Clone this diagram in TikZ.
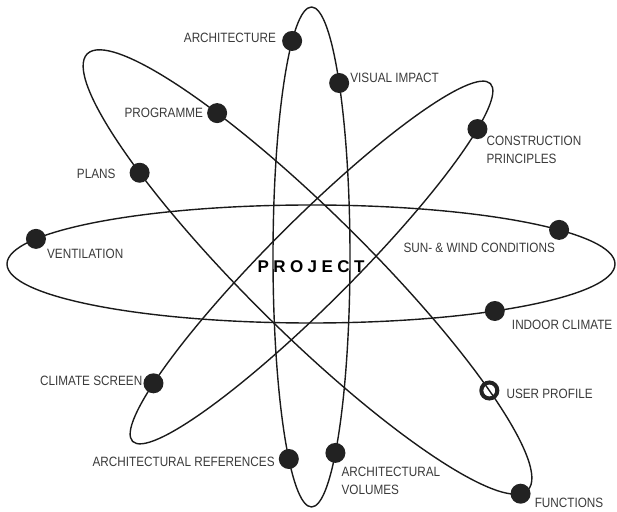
\documentclass[tikz,border=0pt]{standalone}
\usepackage{fontspec}
\setmainfont{Liberation Sans}[FakeStretch=0.87]
\newfontfamily\projfont{Liberation Sans}[LetterSpace=26]
\usetikzlibrary{positioning}
\definecolor{inkline}{HTML}{1A1A1A}
\definecolor{inkdot}{HTML}{222222}
\definecolor{inktext}{HTML}{3A3A3A}

\begin{document}
\begin{tikzpicture}[
    x=1pt,y=1pt,
    orbit/.style={draw=inkline,line width=1.4pt},
    dot/.style={circle,fill=inkdot,inner sep=0pt,minimum size=20pt},
    ring/.style={circle,draw=inkdot,line width=4pt,inner sep=0pt,minimum size=16pt},
    lbl/.style={inner sep=0pt,text=inktext,font=\fontsize{13.5}{18}\selectfont,align=left}
]
    \useasboundingbox (0,0) rectangle (617,511);

    % horizontal orbit
    \begin{scope}[shift={(311,247)}]
        \draw[orbit] (0,0) ellipse [x radius=304,y radius=59];
        \node[dot] (vent) at (154.8:304pt and 59pt) {};
        \node[dot] (sun) at (35.3:304pt and 59pt) {};
        \node[dot] (indoor) at (-52.8:304pt and 59pt) {};
    \end{scope}

    % vertical orbit
    \begin{scope}[shift={(311.5,254)}]
        \draw[orbit] (0,0) ellipse [x radius=38.5,y radius=250];
        \node[dot] (arch) at (120.2:38.5pt and 250pt) {};
        \node[dot] (visual) at (44.1:38.5pt and 250pt) {};
        \node[dot] (archref) at (233.9:38.5pt and 250pt) {};
        \node[dot] (archvol) at (-51.6:38.5pt and 250pt) {};
    \end{scope}

    % orbit falling to the right
    \begin{scope}[shift={(307.5,239)},rotate=-44.7]
        \draw[orbit] (0,0) ellipse [x radius=310,y radius=60];
        \node[dot] (prog) at (124.6:310pt and 60pt) {};
        \node[dot] (plans) at (232.4:310pt and 60pt) {};
        \node[ring] (user) at (46.7:310pt and 60pt) {};
        \node[dot] (func) at (-7.4:310pt and 60pt) {};
    \end{scope}

    % orbit rising to the right
    \begin{scope}[shift={(311.5,248.5)},rotate=45]
        \draw[orbit] (0,0) ellipse [x radius=253,y radius=42];
        \node[dot] (constr) at (-33.2:253pt and 42pt) {};
        \node[dot] (climate) at (141.2:253pt and 42pt) {};
    \end{scope}

    \node[font=\projfont\bfseries\fontsize{17}{17}\selectfont,text=black] (proj) at (311,244) {PROJECT};

    % labels
    \node[lbl,left=16pt of arch.center,yshift=3pt] (archlbl) {ARCHITECTURE};
    \node[lbl,right=11pt of visual.center,yshift=5pt] (visuallbl) {VISUAL IMPACT};
    \node[lbl,left=14pt of prog.center] (proglbl) {PROGRAMME};
    \node[lbl,left=24pt of plans.center,yshift=-1pt] (planslbl) {PLANS};
    \node[lbl,below right=7pt and 9pt of constr.center] (constrlbl) {CONSTRUCTION\\PRINCIPLES};
    \node[lbl,right=11pt of vent.center,yshift=-15pt] (ventlbl) {VENTILATION};
    \node[lbl,left=4pt of sun.center,yshift=-18pt] (sunlbl) {SUN- \& WIND CONDITIONS};
    \node[lbl,right=17pt of indoor.center,yshift=-14pt] (indoorlbl) {INDOOR CLIMATE};
    \node[lbl,left=11pt of climate.center,yshift=2pt] (climatelbl) {CLIMATE SCREEN};
    \node[lbl,right=17pt of user.center,yshift=-3pt] (userlbl) {USER PROFILE};
    \node[lbl,left=14pt of archref.center,yshift=-3pt] (archreflbl) {ARCHITECTURAL REFERENCES};
    \node[lbl,below right=14pt and 6pt of archvol.center] (archvollbl) {ARCHITECTURAL\\VOLUMES};
    \node[lbl,right=14pt of func.center,yshift=-9pt] (funclbl) {FUNCTIONS};
\end{tikzpicture}
\end{document}
